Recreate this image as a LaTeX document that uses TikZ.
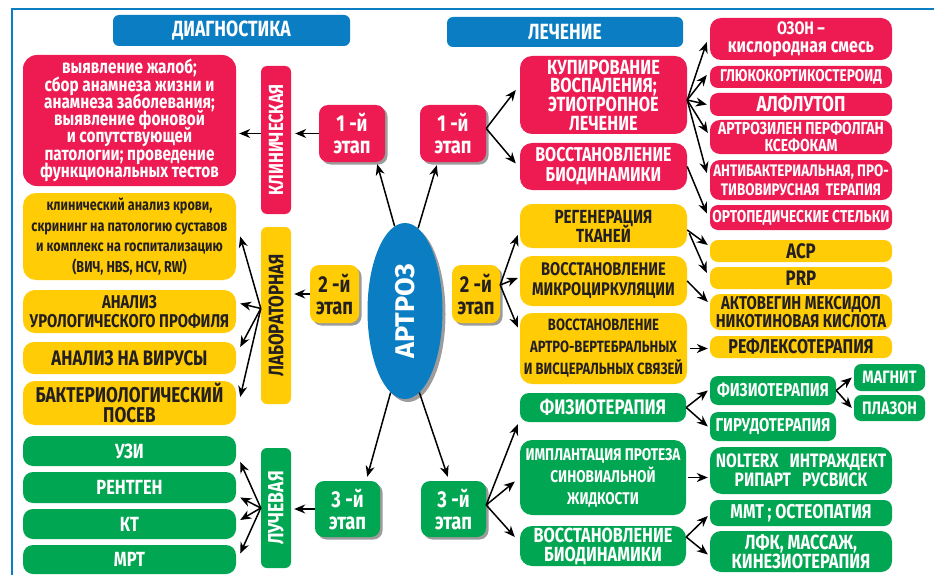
\documentclass[tikz,border=0pt]{standalone}
\usepackage{fontspec}
\setmainfont[FakeStretch=0.8]{Fira Sans}
\newfontfamily\widefont{Fira Sans}
\usetikzlibrary{arrows.meta,shapes.geometric,shadows,calc}
\definecolor{cred}{HTML}{ED1B52}
\definecolor{cyel}{HTML}{FFCC05}
\definecolor{cgrn}{HTML}{00A651}
\definecolor{cblu}{HTML}{0B7EC3}
\definecolor{cdrk}{HTML}{231F20}
\definecolor{cshd}{HTML}{9C9C9C}
\newcommand\fs[2]{\fontsize{#1}{#2}\selectfont\lineskiplimit=-30pt\lineskip=0pt}
\newcommand\bx[7]{%
  \pgfmathsetmacro\bxcx{(#2+#4)/2}\pgfmathsetmacro\bxcy{(#3+#5)/2}%
  \pgfmathsetmacro\bxw{#4-#2}\pgfmathsetmacro\bxh{#5-#3}%
  \node[#6, minimum width=\bxw pt, minimum height=\bxh pt] (#1) at (\bxcx,\bxcy) {#7};}
\tikzset{
  bxs/.style={inner sep=0pt, align=center, font=\bfseries\fs{16}{18}},
  rr/.style={bxs, fill=cred, text=white, rounded corners=9pt},
  yy/.style={bxs, fill=cyel, text=cdrk, rounded corners=9pt},
  gg/.style={bxs, fill=cgrn, text=white, rounded corners=9pt},
  bb/.style={bxs, fill=cblu, text=white, rounded corners=6pt},
  stg/.style={drop shadow={shadow xshift=2.5pt, shadow yshift=-2.5pt, fill=cshd, opacity=1}, font=\bfseries\fs{23}{22}},
  arr/.style={draw=black, line width=1.5pt, -{Stealth[length=11pt,width=9pt,inset=3.5pt]}},
}
\begin{document}
\begin{tikzpicture}[x=1pt,y=-1pt]
\useasboundingbox (0,0) rectangle (934,575);
\fill[white] (0,0) rectangle (934,575);
\draw[cblu, line width=2.5pt] (12,580) -- (12,9) -- (940,9);
% titles
\bx{tdiag}{113}{15}{350}{46}{bb, font=\bfseries\fs{22}{22}}{ДИАГНОСТИКА}
\bx{tlech}{447}{17}{683}{47}{bb, font=\bfseries\fs{22}{22}}{ЛЕЧЕНИЕ}
% left column
\bx{lred}{23}{55}{236}{186}{rr, rounded corners=14pt, font=\bfseries\fs{19.2}{17.3}}{выявление жалоб;\\сбор анамнеза жизни и\\анамнеза заболевания;\\выявление фоновой\\и сопутствующей\\патологии; проведение\\функциональных тестов}
\bx{klin}{261}{66}{291}{214}{rr, rounded corners=6pt, font=\bfseries\fs{20.5}{20}}{\rotatebox{90}{КЛИНИЧЕСКАЯ}}
\bx{lab}{261}{227}{291}{404}{yy, rounded corners=6pt, font=\bfseries\fs{21}{20}}{\rotatebox{90}{ЛАБОРАТОРНАЯ}}
\bx{luch}{261}{448}{291}{568}{gg, rounded corners=6pt, font=\bfseries\fs{22}{20}}{\rotatebox{90}{ЛУЧЕВАЯ}}
\bx{ly1}{23}{193}{236}{280}{yy, rounded corners=13pt, font=\bfseries\fs{15.8}{20.5}}{клинический анализ крови,\\скрининг на патологию суставов\\и комплекс на госпитализацию\\(ВИЧ, HBS, HCV, RW)}
\bx{ly2}{23}{290}{236}{333}{yy, rounded corners=12pt, font=\bfseries\fs{18.5}{19}}{АНАЛИЗ\\УРОЛОГИЧЕСКОГО ПРОФИЛЯ}
\bx{ly3}{23}{342}{236}{374}{yy, rounded corners=11pt, font=\bfseries\fs{21}{20}}{АНАЛИЗ НА ВИРУСЫ}
\bx{ly4}{23}{381}{236}{425}{yy, rounded corners=12pt, font=\bfseries\fs{21.4}{20}}{БАКТЕРИОЛОГИЧЕСКИЙ\\ПОСЕВ}
\bx{lg1}{23}{436}{236}{466}{gg, rounded corners=10pt, font=\bfseries\fs{20.5}{20}}{УЗИ}
\bx{lg2}{23}{472}{236}{503}{gg, rounded corners=10pt, font=\bfseries\fs{20.5}{20}}{РЕНТГЕН}
\bx{lg3}{23}{509}{236}{539}{gg, rounded corners=10pt, font=\bfseries\fs{20.5}{20}}{КТ}
\bx{lg4}{23}{545}{236}{574}{gg, rounded corners=10pt, font=\bfseries\fs{20.5}{20}}{МРТ}
% stages
\bx{s1l}{319}{105}{385}{162}{rr, stg}{1 -й\\этап}
\bx{s1r}{420}{105}{486}{162}{rr, stg}{1 -й\\этап}
\bx{s2l}{310}{265}{359}{323}{yy, stg}{2 -й\\этап}
\bx{s2r}{452}{265}{500}{323}{yy, stg}{2 -й\\этап}
\bx{s3l}{315}{481}{380}{537}{gg, stg}{3 -й\\этап}
\bx{s3r}{421}{481}{486}{537}{gg, stg}{3 -й\\этап}
% center
\node[ellipse, fill=cblu, minimum width=75pt, minimum height=176pt, inner sep=0pt, text=white, font=\widefont\bfseries\fs{27}{28},
  drop shadow={shadow xshift=3pt, shadow yshift=-3pt, fill=cshd, opacity=1}] (art) at (405,311) {\rotatebox{90}{АРТРОЗ}};
% right red
\bx{kup}{520}{56}{687}{134}{rr, rounded corners=12pt, font=\bfseries\fs{20.5}{18.7}}{КУПИРОВАНИЕ\\ВОСПАЛЕНИЯ;\\ЭТИОТРОПНОЕ\\ЛЕЧЕНИЕ}
\bx{vbr}{520}{143}{687}{190}{rr, rounded corners=12pt, font=\bfseries\fs{20}{20}}{ВОССТАНОВЛЕНИЕ\\БИОДИНАМИКИ}
\bx{oz}{710}{18}{892}{60}{rr, rounded corners=11pt, font=\bfseries\fs{18}{18}}{ОЗОН –\\\fs{20}{18}кислородная смесь}
\bx{gl}{710}{66}{892}{88}{rr, rounded corners=8pt, font=\bfseries\fs{17}{17}}{ГЛЮКОКОРТИКОСТЕРОИД}
\bx{al}{710}{93}{892}{116}{rr, rounded corners=8pt, font=\bfseries\fs{21.5}{21}}{АЛФЛУТОП}
\bx{ar}{710}{120}{892}{154}{rr, rounded corners=10pt, font=\bfseries\fs{17.4}{17}}{АРТРОЗИЛЕН ПЕРФОЛГАН\\КСЕФОКАМ}
\bx{an}{710}{160}{892}{200}{rr, rounded corners=10pt, font=\bfseries\fs{16.7}{19}}{АНТИБАКТЕРИАЛЬНАЯ, ПРО-\\ТИВОВИРУСНАЯ\ \ ТЕРАПИЯ}
\bx{or}{710}{205}{892}{230}{rr, rounded corners=8pt, font=\bfseries\fs{17.2}{17}}{ОРТОПЕДИЧЕСКИЕ СТЕЛЬКИ}
% right yellow
\bx{reg}{520}{204}{687}{248}{yy, rounded corners=12pt, font=\bfseries\fs{19}{19}}{РЕГЕНЕРАЦИЯ\\ТКАНЕЙ}
\bx{mik}{520}{256}{687}{306}{yy, rounded corners=12pt, font=\bfseries\fs{18.3}{20}}{ВОССТАНОВЛЕНИЕ\\МИКРОЦИРКУЛЯЦИИ}
\bx{avs}{520}{313}{687}{384}{yy, rounded corners=12pt, font=\bfseries\fs{16.3}{22}}{ВОССТАНОВЛЕНИЕ\\АРТРО-ВЕРТЕБРАЛЬНЫХ\\И ВИСЦЕРАЛЬНЫХ СВЯЗЕЙ}
\bx{acp}{710}{240}{892}{262}{yy, rounded corners=8pt, font=\bfseries\fs{21}{21}}{АСР}
\bx{prp}{710}{267}{892}{289}{yy, rounded corners=8pt, font=\bfseries\fs{21}{21}}{PRP}
\bx{akt}{710}{294}{892}{330}{yy, rounded corners=10pt, font=\bfseries\fs{18.6}{17.5}}{АКТОВЕГИН МЕКСИДОЛ\\НИКОТИНОВАЯ КИСЛОТА}
\bx{ref}{710}{336}{892}{358}{yy, rounded corners=8pt, font=\bfseries\fs{20}{19}}{РЕФЛЕКСОТЕРАПИЯ}
% right green
\bx{fiz}{520}{393}{686}{422}{gg, rounded corners=9pt, font=\bfseries\fs{21}{19}}{ФИЗИОТЕРАПИЯ}
\bx{imp}{520}{440}{686}{515}{gg, rounded corners=12pt, font=\bfseries\fs{17}{22}}{ИМПЛАНТАЦИЯ ПРОТЕЗА\\СИНОВИАЛЬНОЙ\\ЖИДКОСТИ}
\bx{vbg}{520}{526}{686}{566}{gg, rounded corners=12pt, font=\bfseries\fs{20.4}{19}}{ВОССТАНОВЛЕНИЕ\\БИОДИНАМИКИ}
\bx{fiz2}{710}{376}{836}{405}{gg, rounded corners=8pt, font=\bfseries\fs{18.6}{18}}{ФИЗИОТЕРАПИЯ}
\bx{gir}{710}{412}{836}{441}{gg, rounded corners=8pt, font=\bfseries\fs{18.6}{18}}{ГИРУДОТЕРАПИЯ}
\bx{mag}{854}{364}{925}{391}{gg, rounded corners=7pt, font=\bfseries\fs{18}{18}}{МАГНИТ}
\bx{pla}{854}{395}{925}{421}{gg, rounded corners=7pt, font=\bfseries\fs{18}{18}}{ПЛАЗОН}
\bx{nol}{710}{447}{892}{494}{gg, rounded corners=12pt, font=\bfseries\fs{19.4}{19}}{NOLTERX\ \ \ ИНТРАЖДЕКТ\\РИПАРТ\ \ \ РУСВИСК}
\bx{mmt}{710}{500}{892}{526}{gg, rounded corners=8pt, font=\bfseries\fs{20}{18}}{ММТ ; ОСТЕОПАТИЯ}
\bx{lfk}{710}{531}{892}{572}{gg, rounded corners=11pt, font=\bfseries\fs{20.5}{19}}{ЛФК, МАССАЖ,\\КИНЕЗИОТЕРАПИЯ}
% ---- arrows: centre to stages
\draw[arr] (art.97) -- ([xshift=-8pt,yshift=-2pt]s1l.south east);
\draw[arr] (art.81) -- ([xshift=17pt,yshift=-3pt]s1r.south west);
\draw[arr] (art.-100) -- ([xshift=-13pt,yshift=4pt]s3l.north east);
\draw[arr] (art.-80) -- ([xshift=27pt,yshift=4pt]s3r.north west);
% diagnostics
\draw[arr] (s1l.west) -- ([xshift=4pt]s1l.west -| klin.east);
\draw[arr] (klin.west |- s1l.west) -- ([xshift=3pt]lred.east |- s1l.west);
\draw[arr] (s2l.west) -- ([xshift=3pt]s2l.west -| lab.east);
\coordinate (labo) at ([yshift=7pt]lab.west);
\draw[arr] (labo) -- ([xshift=4pt]ly1.east);
\draw[arr] (labo) -- ([xshift=4pt,yshift=8pt]ly2.east);
\draw[arr] (labo) -- ([xshift=4pt,yshift=11pt]ly3.east);
\draw[arr] (labo) -- ([xshift=4pt,yshift=6pt]ly4.east);
\draw[arr] (s3l.west) -- ([xshift=3pt]s3l.west -| luch.east);
\coordinate (luco) at (luch.west);
\draw[arr] (luco) -- ([xshift=4pt,yshift=-11pt]lg1.east);
\draw[arr] (luco) -- ([xshift=4pt,yshift=-10pt]lg2.east);
\draw[arr] (luco) -- ([xshift=4pt,yshift=4pt]lg3.east);
\draw[arr] (luco) -- ([xshift=4pt,yshift=6pt]lg4.east);
% treatment stage 1
\coordinate (s1o) at ([yshift=5pt]s1r.east);
\draw[arr] (s1o) -- ([xshift=-4pt,yshift=5pt]kup.west);
\draw[arr] (s1o) -- ([xshift=-4pt,yshift=3pt]vbr.west);
\coordinate (kupo) at ([yshift=-5pt]kup.east);
\draw[arr] (kupo) -- ([xshift=-3pt,yshift=-3pt]oz.west);
\draw[arr] (kupo) -- ([xshift=-3pt,yshift=2pt]gl.west);
\draw[arr] (kupo) -- ([xshift=-3pt]al.west);
\draw[arr] (kupo) -- ([xshift=-2pt,yshift=4pt]ar.west);
\draw[arr] (kupo) -- ([xshift=-3pt,yshift=7pt]an.west);
\draw[arr] (vbr.east) -- ([xshift=-3pt,yshift=4pt]or.west);
% stage 2
\coordinate (s2o) at ([yshift=9pt]s2r.east);
\draw[arr] (s2o) -- ([xshift=-2pt,yshift=-9pt]reg.west);
\draw[arr] (s2o) -- ([xshift=-2pt,yshift=3pt]mik.west);
\draw[arr] (s2o) -- ([xshift=-2pt,yshift=21pt]avs.west);
\draw[arr] ([yshift=-4pt]reg.east) -- ([xshift=-2pt,yshift=6pt]acp.west);
\draw[arr] ([xshift=2pt,yshift=-7pt]reg.east) -- ([xshift=-3pt,yshift=5pt]prp.west);
\draw[arr] (mik.east) -- ([xshift=-2pt,yshift=10pt]akt.west);
\draw[arr] ([xshift=3pt]avs.east) -- ([xshift=-2pt]avs.east -| ref.west);
% stage 3
\coordinate (s3o) at ([yshift=4pt]s3r.east);
\draw[arr] (s3o) -- ([xshift=-2pt,yshift=-2pt]fiz.south west);
\draw[arr] (s3o) -- ([xshift=-5pt,yshift=-4pt]imp.west);
\draw[arr] (s3o) -- ([xshift=-5pt,yshift=9pt]vbg.west);
\draw[arr] (fiz.east) -- ([xshift=-2pt]fiz2.west);
\draw[arr] (fiz.east) -- ([xshift=-2pt]gir.west);
\draw[arr] (fiz2.east) -- ([xshift=-2pt]mag.west);
\draw[arr] (fiz2.east) -- ([xshift=-2pt]pla.west);
\draw[arr] ([xshift=2pt]imp.east) -- ([xshift=-2pt]imp.east -| nol.west);
\coordinate (vbgo) at ([yshift=9pt]vbg.east);
\draw[arr] (vbgo) -- ([xshift=-2pt,yshift=-3pt]mmt.west);
\draw[arr] (vbgo) -- ([xshift=-2pt,yshift=-3pt]lfk.west);
\end{tikzpicture}
\end{document}
